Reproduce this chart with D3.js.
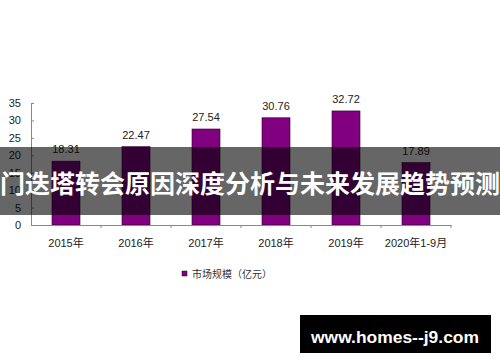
<!DOCTYPE html>
<html>
<head>
<meta charset="utf-8">
<title>市场规模</title>
<script src="https://cdn.jsdelivr.net/npm/d3@7"></script>
<style>
	html, body { margin: 0; padding: 0; background: #fff; }
	svg { display: block; }
	text { font-family: "Liberation Sans", "Noto Sans CJK SC", sans-serif; }
</style>
</head>
<body>
<div id="vis"></div>
<script>

var years = ["2015年", "2016年", "2017年", "2018年", "2019年", "2020年1-9月"];
var values = [18.31, 22.47, 27.54, 30.76, 32.72, 17.89];
var yTicks = [0, 5, 10, 15, 20, 25, 30, 35];
var legendLabel = "市场规模（亿元）";
var bannerText = "门迭塔转会原因深度分析与未来发展趋势预测";
var siteText = "www.homes--j9.com";

var width = 500, height = 362;

var svg = d3.select("#vis").append("svg")
	.attr("width", width)
	.attr("height", height);

var x = d3.scaleBand()
	.domain(years)
	.range([31, 451])
	.paddingInner(0.6)
	.paddingOuter(0.3);

var y = d3.scaleLinear()
	.domain([0, 35])
	.range([225, 103]);

// bars
svg.selectAll(".bar")
	.data(values)
	.enter().append("rect")
	.attr("class", "bar")
	.attr("x", function(d, i) { return x(years[i]); })
	.attr("y", function(d) { return y(d); })
	.attr("width", x.bandwidth())
	.attr("height", function(d) { return y(0) - y(d); })
	.attr("fill", "#800080")
	.attr("stroke", "#2a002a")
	.attr("stroke-width", 0.6);

// value labels
svg.selectAll(".val")
	.data(values)
	.enter().append("text")
	.attr("class", "val")
	.attr("x", function(d, i) { return x(years[i]) + x.bandwidth() / 2; })
	.attr("y", function(d) { return y(d) - 8; })
	.attr("text-anchor", "middle")
	.attr("font-size", "11px")
	.attr("fill", "#222")
	.text(function(d) { return d.toFixed(2); });

// y axis
var yAxis = svg.append("g")
	.attr("transform", "translate(31,0)")
	.call(d3.axisLeft(y).tickValues(yTicks).tickSizeInner(-3).tickSizeOuter(0).tickPadding(10));
yAxis.select(".domain").attr("stroke", "#888");
yAxis.selectAll(".tick line").attr("stroke", "#888");
yAxis.selectAll(".tick text")
	.attr("font-size", "11px")
	.attr("fill", "#222")
	.attr("font-family", "Liberation Sans, sans-serif");

// x axis
var xAxis = svg.append("g")
	.attr("transform", "translate(0," + y(0) + ")")
	.call(d3.axisBottom(x).tickSize(0).tickPadding(14));
xAxis.select(".domain").attr("stroke", "#888");
xAxis.selectAll(".tick text")
	.attr("font-size", "11px")
	.attr("fill", "#222")
	.attr("font-family", "Liberation Sans, Noto Sans CJK SC, sans-serif");

// tick marks between categories
xAxis.selectAll(".sep")
	.data(years)
	.enter().append("line")
	.attr("class", "sep")
	.attr("x1", function(d) { return x(d) + x.bandwidth() + (x.step() - x.bandwidth()) / 2; })
	.attr("x2", function(d) { return x(d) + x.bandwidth() + (x.step() - x.bandwidth()) / 2; })
	.attr("y1", 0)
	.attr("y2", 3)
	.attr("stroke", "#888");

// legend
svg.append("rect")
	.attr("x", 182)
	.attr("y", 271)
	.attr("width", 5)
	.attr("height", 5)
	.attr("fill", "#800080")
	.attr("stroke", "#2a002a")
	.attr("stroke-width", 0.5);
svg.append("text")
	.attr("x", 192)
	.attr("y", 274)
	.attr("dominant-baseline", "central")
	.attr("font-size", "10px")
	.attr("fill", "#333")
	.attr("font-family", "Noto Sans CJK SC, sans-serif")
	.text(legendLabel);

// banner
svg.append("rect")
	.attr("x", 0)
	.attr("y", 147)
	.attr("width", width)
	.attr("height", 68)
	.attr("fill", "#000")
	.attr("fill-opacity", 0.6);
svg.append("text")
	.attr("x", width / 2)
	.attr("y", 184)
	.attr("text-anchor", "middle")
	.attr("dominant-baseline", "central")
	.attr("font-size", "25px")
	.attr("font-weight", "bold")
	.attr("fill", "#fff")
	.attr("font-family", "Noto Sans CJK SC, sans-serif")
	.text(bannerText);

// site box
svg.append("rect")
	.attr("x", 300)
	.attr("y", 315)
	.attr("width", 191)
	.attr("height", 38)
	.attr("fill", "#000");
svg.append("text")
	.attr("x", 395)
	.attr("y", 337)
	.attr("text-anchor", "middle")
	.attr("dominant-baseline", "central")
	.attr("font-size", "17px")
	.attr("font-weight", "bold")
	.attr("fill", "#fff")
	.attr("font-family", "Open Sans, sans-serif")
	.attr("textLength", 168)
	.attr("lengthAdjust", "spacingAndGlyphs")
	.text(siteText);

</script>
</body>
</html>
